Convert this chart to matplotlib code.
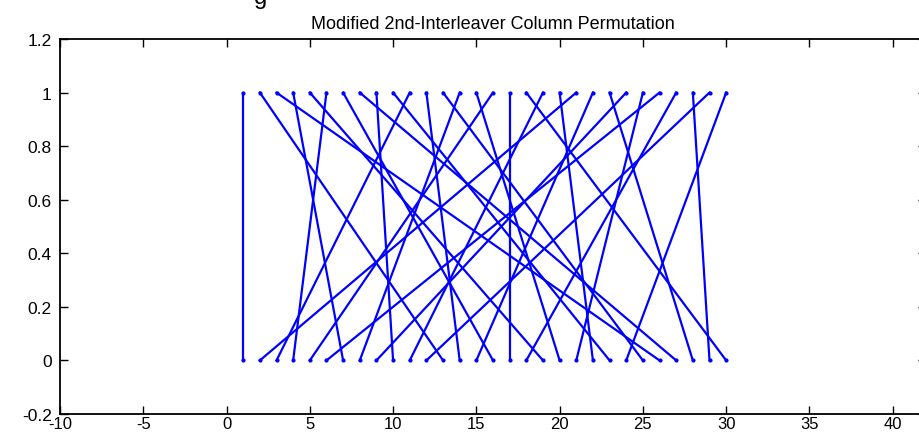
import numpy as np
import matplotlib.pyplot as plt

plt.rcParams['font.family'] = ['Liberation Sans', 'DejaVu Sans']

# inter-column permutation (0-based), 30 columns
perm = [0, 20, 10, 5, 15, 25, 3, 13, 23, 8, 18, 28, 1, 11, 21,
        6, 16, 26, 4, 14, 24, 19, 9, 29, 12, 2, 7, 22, 27, 17]
xticks = [-10, -5, 0, 5, 10, 15, 20, 25, 30, 35, 40]
yticks = [-0.2, 0, 0.2, 0.4, 0.6, 0.8, 1, 1.2]
ylabels = ['-0.2', '0', '0.2', '0.4', '0.6', '0.8', '1', '1.2']

fig = plt.figure(figsize=(9.2, 4.35), dpi=100)
ax = fig.add_axes([60 / 920, 20 / 435, 866 / 920, 375 / 435])

# bottom column j comes from top column perm[j]
for j, p in enumerate(perm):
    ax.plot([j + 1, p + 1], [0, 1], '.-', color='blue', lw=1.6, ms=4)

ax.set_xlim(-10, 42)
ax.set_ylim(-0.2, 1.2)
ax.set_xticks(xticks)
ax.set_xticklabels([str(t) for t in xticks])
ax.set_yticks(yticks)
ax.set_yticklabels(ylabels)
ax.tick_params(direction='in', length=6, width=1, top=True, right=True,
               labelsize=12.5)
ax.tick_params(axis='x', pad=1.5, labelsize=12)
ax.tick_params(axis='y', pad=6)
for s in ax.spines.values():
    s.set_linewidth(1.3)

ax.set_title('Modified 2nd-Interleaver Column Permutation', fontsize=13, pad=8)
fig.text(261 / 920, 1 - 4 / 435, 'g', fontsize=17, ha='center', va='baseline')

fig.savefig('out.png', dpi=100)
